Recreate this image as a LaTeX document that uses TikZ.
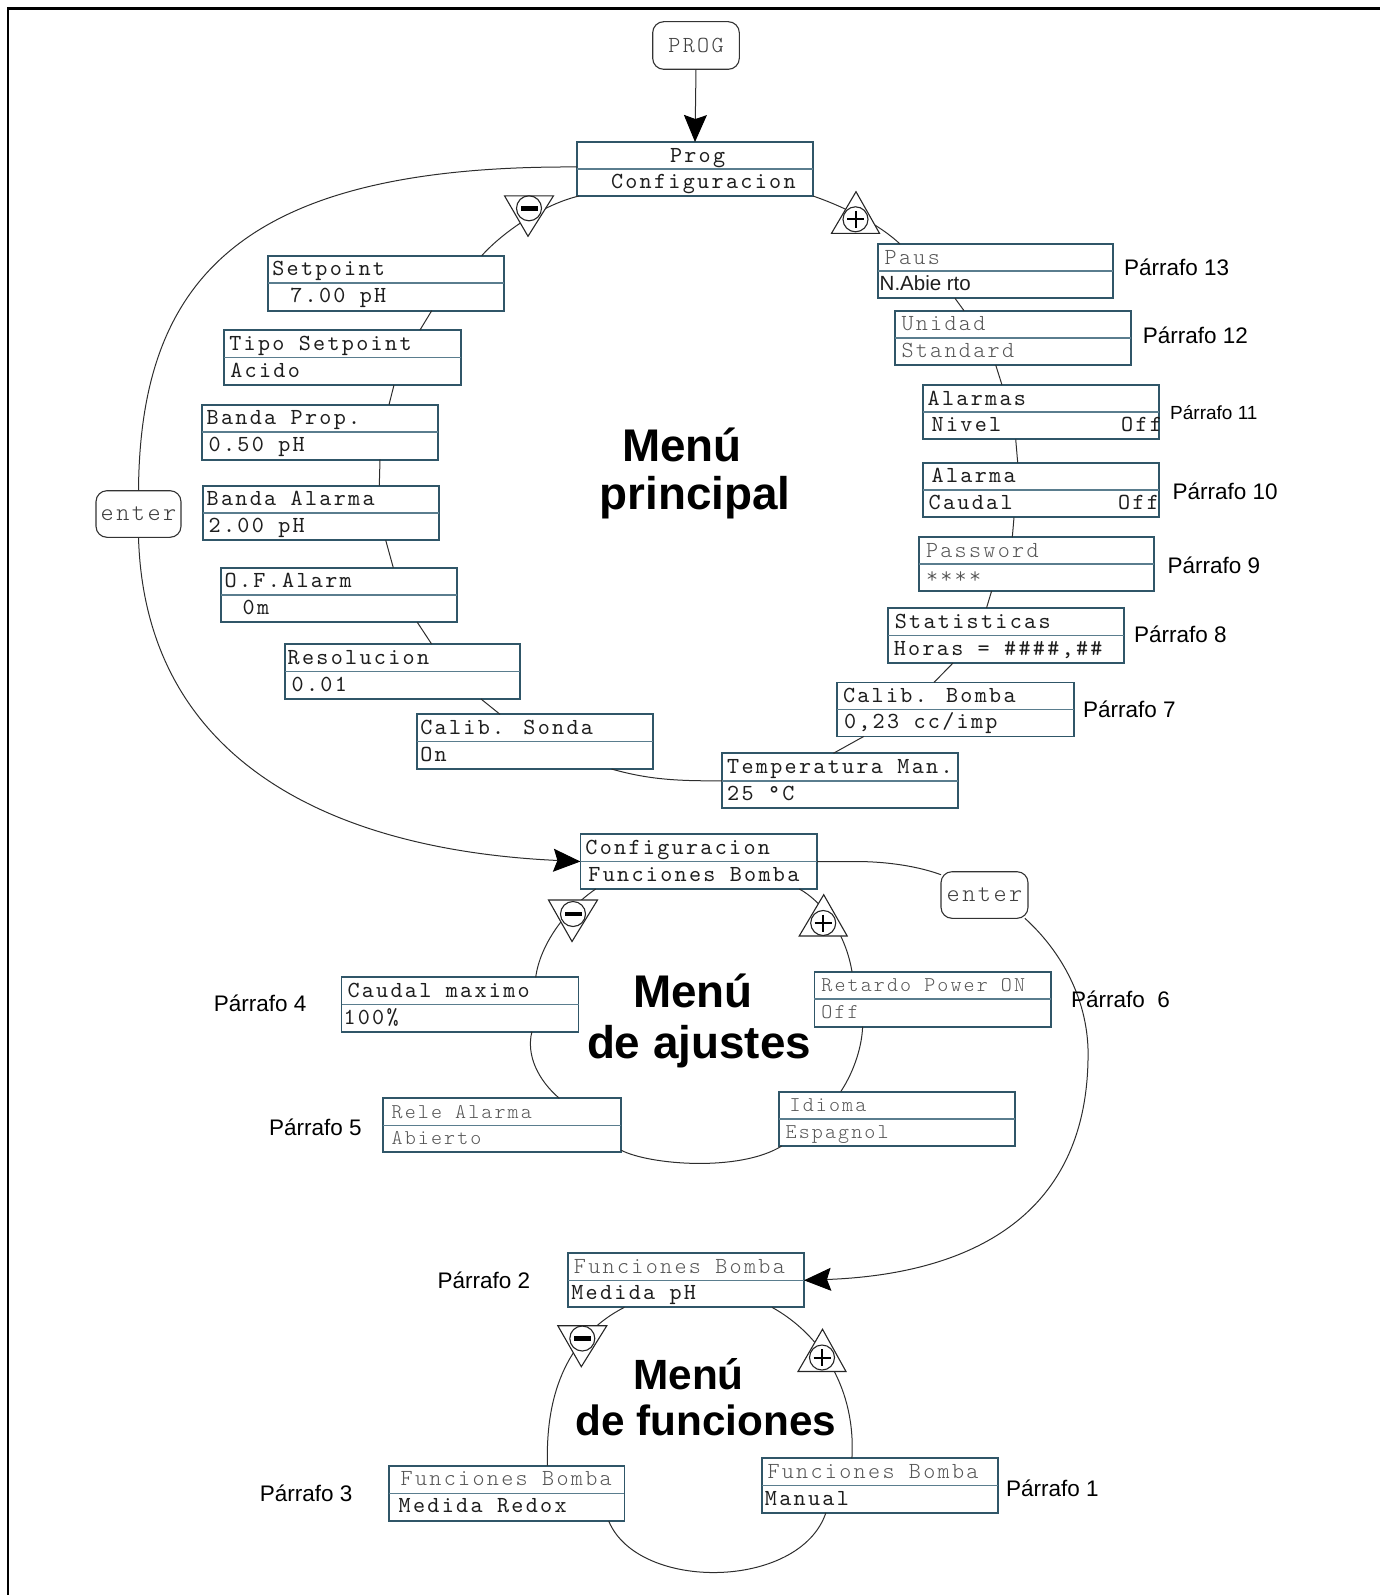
\documentclass[tikz,border=0pt]{standalone}
\usepackage{fontspec}
\setmainfont{Liberation Sans}
\newfontfamily\arialf{Liberation Sans}
\newfontfamily\monof[LetterSpace=10]{lmmono10-regular.otf}
\newfontfamily\monolt[LetterSpace=10]{lmmonolt10-regular.otf}
\usetikzlibrary{arrows.meta,calc}
\definecolor{boxc}{RGB}{48,86,104}
\definecolor{divc}{RGB}{90,125,142}
\definecolor{txt}{RGB}{30,30,30}
\definecolor{ltxt}{RGB}{85,85,85}
\definecolor{linec}{RGB}{45,45,45}
\newcommand{\mtf}{\monof\fontsize{23}{27}\selectfont}
\newcommand{\smf}{\fontsize{21}{25}\selectfont}
\newcommand{\ltc}{\monolt\color{ltxt}}
\tikzset{
  mbox/.style={draw=boxc, line width=1.8pt, fill=white, inner sep=0pt, outer sep=0pt, rectangle},
  mdiv/.style={draw=divc, line width=1.5pt},
  mtxt/.style={inner sep=0pt, outer sep=0pt, font=\mtf, text=txt},
  conn/.style={draw=linec, line width=1pt},
  bigtip/.style={-{Stealth[length=27pt,width=23pt,inset=4pt,color=black]}},
  btn/.style={draw=black!80, line width=1.1pt, rounded corners=11pt, fill=white, inner sep=0pt, outer sep=0pt, text=black!75},
  sym/.style={draw=black!85, line width=1.1pt},
  para/.style={font=\arialf\fontsize{22.5}{26}\selectfont, inner sep=0pt, anchor=base west},
  ttl/.style={font=\arialf\bfseries\fontsize{45.8}{52}\selectfont, inner sep=0pt, anchor=base},
  ttlb/.style={font=\arialf\bfseries\fontsize{42.3}{48}\selectfont, inner sep=0pt, anchor=base},
  frameline/.style={draw=black, line width=2.5pt}
}
% name, x, y, w, h, off1, text1, off2, text2
\newcommand{\mbx}[9]{%
  \node[mbox, minimum width=#4pt, minimum height=#5pt, anchor=north west] (#1) at (#2,#3) {};
  \draw[mdiv] (#1.west) -- (#1.east);
  \node[mtxt, anchor=base west] (#1-a) at ([xshift=#6pt, yshift=-20pt]#1.north west) {#7};
  \node[mtxt, anchor=base west] (#1-b) at ([xshift=#8pt, yshift=-19.5pt]#1.west) {#9};
}
\newcommand{\minussym}[4]{% cx, cy, top offset, apex offset
  \begin{scope}[shift={(#1,#2)}]
    \filldraw[sym, fill=white] (-24.5,#3) -- (24.5,#3) -- (-1,#4) -- cycle;
    \draw[sym] (0,0) circle[radius=12.5pt];
    \fill[black] (-8.5,-2.3) rectangle (8.5,2.3);
  \end{scope}}
\newcommand{\plussym}[4]{% cx, cy, base offset, apex offset
  \begin{scope}[shift={(#1,#2)}]
    \filldraw[sym, fill=white] (-24,#3) -- (24,#3) -- (0.5,#4) -- cycle;
    \draw[sym] (0,0) circle[radius=12.5pt];
    \draw[black, line width=2pt] (-8.5,0) -- (8.5,0) (0,-8.5) -- (0,8.5);
  \end{scope}}
\begin{document}
\begin{tikzpicture}[x=1pt,y=-1pt]
\useasboundingbox (0,0) rectangle (1380,1595);
\draw[frameline] (8,1595) -- (8,8.5) -- (1380,8.5);

% ---------- boxes: main menu ----------
\mbx{prog}{577}{142}{236}{54}{93}{Prog}{34}{Configuracion}
\mbx{setp}{268.3}{255.7}{236}{55}{4}{Setpoint}{22}{7.00 pH}
\mbx{tipo}{224.3}{330}{236.5}{55}{5}{Tipo Setpoint}{6}{Acido}
\mbx{bprop}{201.7}{404.7}{236}{55}{5}{Banda Prop.}{7}{0.50 pH}
\mbx{balarm}{202.7}{485.7}{236}{54.5}{4}{Banda Alarma}{6}{2.00 pH}
\mbx{ofal}{220.7}{567.7}{236}{54.6}{4}{O.F.Alarm}{22}{0m}
\mbx{resol}{284.7}{644}{235.5}{55}{3}{Resolucion}{7}{0.01}
\mbx{csonda}{417.3}{714.3}{235.7}{54.7}{3}{Calib. Sonda}{3}{On}
\mbx{temp}{722.2}{753.3}{235.5}{55}{5}{Temperatura Man.}{5}{25 °C}
\mbx{cbomba}{837}{682.4}{237}{54}{6}{Calib. Bomba}{7}{0,23 cc/imp}
\mbx{stat}{887.8}{608}{236}{55}{7}{Statisticas}{6}{Horas = \#\#\#\#,\#\#}
\mbx{passw}{919}{537.3}{235.3}{53.7}{7}{\ltc Password}{7}{\ltc ****}
\mbx{alarma}{922.7}{462.7}{236.3}{54.6}{9}{Alarma}{6}{Caudal}
\mbx{alarmas}{922.7}{385}{236.3}{54.3}{5}{Alarmas}{9}{Nivel}
\mbx{unidad}{895}{310.7}{236}{54.3}{6.5}{\ltc Unidad}{6.5}{\ltc Standard}
\mbx{paus}{877.7}{244}{235.6}{54.3}{7}{\ltc Paus}{2}{\arialf\fontsize{20.5}{24}\selectfont N.Abie rto}
\node[mtxt, anchor=base east] (alarmas-c) at ([xshift=3pt, yshift=-19.5pt]alarmas.east) {Off};
\node[mtxt, anchor=base east] (alarma-c) at ([xshift=0pt, yshift=-19.5pt]alarma.east) {Off};

% ---------- boxes: ajustes ----------
\mbx{conf}{580.4}{834}{236.6}{55}{5}{Configuracion}{8}{Funciones Bomba}
\mbx{cmax}{341.5}{977.3}{237}{54.4}{6}{Caudal maximo}{2}{100\%}
\mbx{retardo}{814.4}{971.7}{236.2}{55}{7}{\smf\ltc Retardo Power ON}{7}{\smf\ltc Off}
\mbx{rele}{382.7}{1098.3}{238.6}{54}{9}{\smf\ltc Rele Alarma}{9}{\smf\ltc Abierto}
\mbx{idioma}{778.7}{1091.7}{236}{54.3}{11}{\smf\ltc Idioma}{7}{\smf\ltc Espagnol}

% ---------- boxes: funciones ----------
\mbx{medph}{568.3}{1253.3}{235.7}{54}{5.6}{\ltc Funciones Bomba}{3}{Medida pH}
\mbx{redox}{388.7}{1465.7}{235.7}{55.3}{12}{\ltc Funciones Bomba}{10}{Medida Redox}
\mbx{manual}{761.9}{1458.3}{235.7}{54.4}{5.6}{\ltc Funciones Bomba}{3}{Manual}

% ---------- buttons ----------
\node[btn, font=\monolt\fontsize{23}{27}\selectfont, minimum width=86.6pt, minimum height=47.6pt] (progbtn) at (696,45.5) {PROG};
\node[btn, font=\monolt\fontsize{25}{29}\selectfont, minimum width=85pt, minimum height=46.6pt] (enter1) at (138.5,514) {enter};
\node[btn, font=\monolt\fontsize{25}{29}\selectfont, minimum width=87pt, minimum height=46.6pt] (enter2) at (984.5,895) {enter};

% ---------- connectors: main menu ----------
\draw[conn] ([xshift=2pt]prog.south west) .. controls (545,204) and (505,230) .. ([xshift=213.4pt]setp.north west);
\draw[conn] ([xshift=163.4pt]setp.south west) -- ([xshift=195.7pt]tipo.north west);
\draw[conn] ([xshift=169.7pt]tipo.south west) -- ([xshift=187.3pt]bprop.north west);
\draw[conn] ([xshift=178.3pt]bprop.south west) -- ([xshift=176.6pt]balarm.north west);
\draw[conn] ([xshift=183pt]balarm.south west) -- ([xshift=172.6pt]ofal.north west);
\draw[conn] ([xshift=196.6pt]ofal.south west) -- ([xshift=146.9pt]resol.north west);
\draw[conn] ([xshift=196.3pt]resol.south west) -- ([xshift=82.7pt]csonda.north west);
\draw[conn] ([xshift=194.2pt]csonda.south west) .. controls (650,780) and (680,781) .. (temp.west);
\draw[conn] (prog.south east) .. controls (845,207) and (880,225) .. ([xshift=22.3pt]paus.north west);
\draw[conn] ([xshift=77.3pt]paus.south west) -- ([xshift=69pt]unidad.north west);
\draw[conn] ([xshift=100.7pt]unidad.south west) -- ([xshift=79.3pt]alarmas.north west);
\draw[conn] ([xshift=93pt]alarmas.south west) -- ([xshift=95pt]alarma.north west);
\draw[conn] ([xshift=91.3pt]alarma.south west) -- ([xshift=93.3pt]passw.north west);
\draw[conn] ([xshift=72.6pt]passw.south west) -- ([xshift=98.7pt]stat.north west);
\draw[conn] ([xshift=65.2pt]stat.south west) -- ([xshift=97pt]cbomba.north west);
\draw[conn] ([xshift=26.8pt]cbomba.south west) -- ([xshift=111.2pt]temp.north west);

% ---------- connectors: ajustes ----------
\draw[conn] ([xshift=15.3pt]conf.south west) .. controls (565,910) and (540,945) .. ([xshift=194.2pt]cmax.north west);
\draw[conn] ([xshift=190.4pt]cmax.south west) .. controls (526,1055) and (538,1080) .. ([xshift=176.6pt]rele.north west);
\draw[conn] ([yshift=2pt]rele.south east) .. controls (650,1165) and (740,1172) .. ([xshift=3pt]idioma.south west);
\draw[conn] ([xshift=62pt]idioma.north west) .. controls (855,1070) and (862,1045) .. ([xshift=48.2pt]retardo.south west);
\draw[conn] ([xshift=218.9pt]conf.south west) .. controls (820,900) and (845,930) .. ([xshift=37.6pt]retardo.north west);

% ---------- connectors: funciones ----------
\draw[conn] ([xshift=56.1pt]medph.south west) .. controls (570,1335) and (545,1390) .. ([xshift=158.8pt]redox.north west);
\draw[conn] ([xshift=203.7pt]medph.south west) .. controls (822,1335) and (856,1390) .. ([xshift=90pt]manual.north west);
\draw[conn] ([xshift=220pt]redox.south west) .. controls (638,1592) and (800,1590) .. ([xshift=64pt]manual.south west);

% ---------- loops and arrows ----------
\draw[conn, bigtip] (progbtn.south) -- (prog.north);
\draw[conn] ([yshift=2pt]prog.west) .. controls (240,165) and (140,280) .. (enter1.north);
\draw[conn, bigtip] (enter1.south) .. controls (145,760) and (330,850) .. (conf.west);
\draw[conn] (conf.east) -- (855,861.5) .. controls (890,861.5) and (920,867) .. (enter2.155);
\draw[conn, bigtip] (enter2.-30) .. controls (1060,950) and (1090,1000) .. (1088,1060) .. controls (1085,1230) and (950,1275) .. (medph.east);

% ---------- +/- symbols ----------
\minussym{529}{208.3}{-12.5}{28}
\plussym{855.5}{219.3}{14}{-27.6}
\minussym{573}{914}{-14}{27.5}
\plussym{823.2}{923}{13}{-28.3}
\minussym{582.3}{1338.5}{-12.8}{28.2}
\plussym{822}{1357.5}{14}{-28.3}

% ---------- titles ----------
\node[ttl] (t1a) at (682,461.5) {Menú};
\node[ttl] (t1b) at (695,509.5) {principal};
\node[ttl] (t2a) at (693,1007) {Menú};
\node[ttl] (t2b) at (699,1058) {de ajustes};
\node[ttlb] (t3a) at (688.5,1389.5) {Menú};
\node[ttlb] (t3b) at (706,1435.5) {de funciones};

% ---------- paragraph labels ----------
\node[para] (p13) at (1124,275) {Párrafo 13};
\node[para] (p12) at (1142.7,343) {Párrafo 12};
\node[para, font=\arialf\fontsize{19}{22}\selectfont] (p11) at (1170,419.5) {Párrafo 11};
\node[para] (p10) at (1172.3,499) {Párrafo 10};
\node[para] (p9) at (1167.3,573) {Párrafo 9};
\node[para] (p8) at (1134,642) {Párrafo 8};
\node[para] (p7) at (1083,717) {Párrafo 7};
\node[para] (p4) at (213.7,1011) {Párrafo 4};
\node[para] (p6) at (1071,1007) {Párrafo\ \ 6};
\node[para] (p5) at (269,1135) {Párrafo 5};
\node[para] (p2) at (437.5,1288) {Párrafo 2};
\node[para] (p3) at (259.6,1501.5) {Párrafo 3};
\node[para] (p1) at (1006,1496) {Párrafo 1};
\end{tikzpicture}
\end{document}
